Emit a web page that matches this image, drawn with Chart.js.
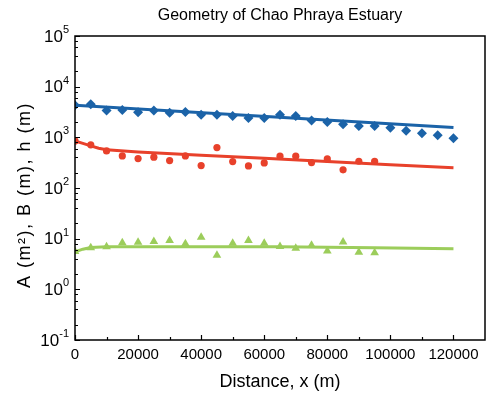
<!DOCTYPE html>
<html>
<head>
<meta charset="utf-8">
<script src="https://cdn.jsdelivr.net/npm/chart.js@4.4.1/dist/chart.umd.min.js"></script>
<style>
html, body { margin: 0; padding: 0; background: #fff; }
#wrap { width: 490px; height: 400px; }
</style>
</head>
<body>
<div id="wrap"><canvas id="estuary"></canvas></div>
<script>
// measured stations along the estuary (m)
var distance = [0, 5000, 10000, 15000, 20000, 25000, 30000, 35000, 40000, 45000, 50000, 55000, 60000,
  65000, 70000, 75000, 80000, 85000, 90000, 95000, 100000, 105000, 110000, 115000, 120000];
// cross-sectional area A (m2)
var areaA = [4300, 4500, 3370, 3470, 3130, 3370, 3070, 3170, 2800, 2800, 2650, 2420, 2420,
  2800, 2650, 2140, 2010, 1810, 1680, 1680, 1550, 1355, 1205, 1100, 960];
// width B (m), stations 0 - 95 km
var widthB = [850, 710, 540, 430, 380, 405, 347, 430, 277, 627, 332, 273, 312,
  424, 424, 317, 375, 228, 337, 337];
// depth h (m), stations 0 - 95 km
var depthH = [5.6, 6.6, 6.9, 8.3, 8.5, 8.8, 9.2, 7.9, 10.7, 4.7, 8.1, 9.2, 8.1,
  7.0, 6.5, 7.4, 5.7, 8.6, 5.4, 5.3];

// fitted curves
var fitAX = [0, 120000];
var fitA = [4300, 1560];
var fitBX = [0, 2500, 5000, 7500, 10000, 20000, 40000, 60000, 80000, 100000, 120000];
var fitB = [850, 760, 680, 610, 570, 515, 445, 385, 332, 288, 252];
var fitHX = [0, 2500, 5000, 10000, 65000, 95000, 120000];
var fitH = [5.5, 6.2, 6.7, 6.9, 6.9, 6.6, 6.3];

var xTicks = [0, 20000, 40000, 60000, 80000, 100000, 120000];
var yDecades = [0.1, 1, 10, 100, 1000, 10000, 100000];
var yExponents = ['-1', '0', '1', '2', '3', '4', '5'];

var blue = '#1b63a8';
var red = '#e8412b';
var green = '#9ccd5b';
var font = 'Liberation Sans, Arial, sans-serif';

function pts(xs, ys) {
  return ys.map(function (v, i) { return { x: xs[i], y: v }; });
}

var axisDecor = {
  id: 'axisDecor',
  afterDatasetsDraw: function (chart) {
    var c = chart.ctx, a = chart.chartArea;
    var xs = chart.scales.x, ys = chart.scales.y;
    c.save();
    c.strokeStyle = '#000';
    c.lineWidth = 1.5;
    c.strokeRect(a.left, a.top, a.right - a.left, a.bottom - a.top);
    c.lineWidth = 1.2;
    c.beginPath();
    // x ticks, pointing inward
    for (var v = 0; v <= 120000; v += 10000) {
      var px = Math.round(xs.getPixelForValue(v)) + 0.5;
      var len = v % 20000 === 0 ? 5 : 3;
      c.moveTo(px, a.bottom);
      c.lineTo(px, a.bottom - len);
    }
    // y ticks, decades plus minor steps
    for (var d = 0; d < yDecades.length; d++) {
      var base = yDecades[d];
      var py = Math.round(ys.getPixelForValue(base)) + 0.5;
      c.moveTo(a.left, py);
      c.lineTo(a.left + 5, py);
      if (d < yDecades.length - 1) {
        [2, 4, 6, 8].forEach(function (m) {
          var q = Math.round(ys.getPixelForValue(base * m)) + 0.5;
          c.moveTo(a.left, q);
          c.lineTo(a.left + 3, q);
        });
      }
    }
    c.stroke();

    // y labels: 10 with raised exponent
    c.fillStyle = '#000';
    c.textBaseline = 'middle';
    for (var k = 0; k < yDecades.length; k++) {
      var y = ys.getPixelForValue(yDecades[k]);
      c.font = '11px ' + font;
      c.textAlign = 'right';
      var ew = c.measureText(yExponents[k]).width;
      c.fillText(yExponents[k], 69, y - 6);
      c.font = '17px ' + font;
      c.fillText('10', 69 - ew, y + 1);
    }

    // title, centred over the plot
    c.font = '16px ' + font;
    c.textAlign = 'center';
    c.fillText('Geometry of Chao Phraya Estuary', (a.left + a.right) / 2, 16);

    // y axis title, rotated
    c.translate(25, 195);
    c.rotate(-Math.PI / 2);
    c.font = '18px ' + font;
    c.letterSpacing = '1.5px';
    c.fillText('A (m²), B (m), h (m)', 0, 0);
    c.restore();
  }
};

new Chart(document.getElementById('estuary'), {
  type: 'scatter',
  data: {
    datasets: [
      { data: pts(distance, areaA), pointStyle: 'rectRot', pointRadius: 5, backgroundColor: blue, borderColor: blue, borderWidth: 0, order: 1 },
      { data: pts(distance, widthB), pointStyle: 'circle', pointRadius: 3.6, backgroundColor: red, borderColor: red, borderWidth: 0, order: 1 },
      { data: pts(distance, depthH), pointStyle: 'triangle', pointRadius: 5, backgroundColor: green, borderColor: green, borderWidth: 0, order: 1 },
      { data: pts(fitAX, fitA), showLine: true, pointRadius: 0, borderColor: blue, borderWidth: 3, order: 2 },
      { data: pts(fitBX, fitB), showLine: true, pointRadius: 0, borderColor: red, borderWidth: 3, order: 2 },
      { data: pts(fitHX, fitH), showLine: true, pointRadius: 0, borderColor: green, borderWidth: 3, order: 2 }
    ]
  },
  options: {
    responsive: true,
    maintainAspectRatio: false,
    animation: false,
    devicePixelRatio: 1,
    layout: { padding: { top: 36, right: 2, left: 0, bottom: 0 } },
    plugins: { legend: { display: false }, tooltip: { enabled: false }, title: { display: false } },
    scales: {
      x: {
        type: 'linear', min: 0, max: 130000,
        afterBuildTicks: function (s) { s.ticks = xTicks.map(function (v) { return { value: v }; }); },
        afterFit: function (s) { s.height = 60; },
        grid: { display: false, drawTicks: false },
        border: { display: false },
        ticks: {
          autoSkip: false, maxRotation: 0, padding: 6, color: '#000',
          font: { family: font, size: 15 },
          callback: function (v) { return String(v); }
        },
        title: { display: true, text: 'Distance, x (m)', color: '#000', font: { family: font, size: 18 }, padding: { top: 0, bottom: 7 } }
      },
      y: {
        type: 'logarithmic', min: 0.1, max: 100000,
        afterBuildTicks: function (s) { s.ticks = yDecades.map(function (v) { return { value: v }; }); },
        afterFit: function (s) { s.width = 75; },
        grid: { display: false, drawTicks: false },
        border: { display: false },
        ticks: { display: false },
        title: { display: false }
      }
    }
  },
  plugins: [axisDecor]
});
</script>
</body>
</html>
